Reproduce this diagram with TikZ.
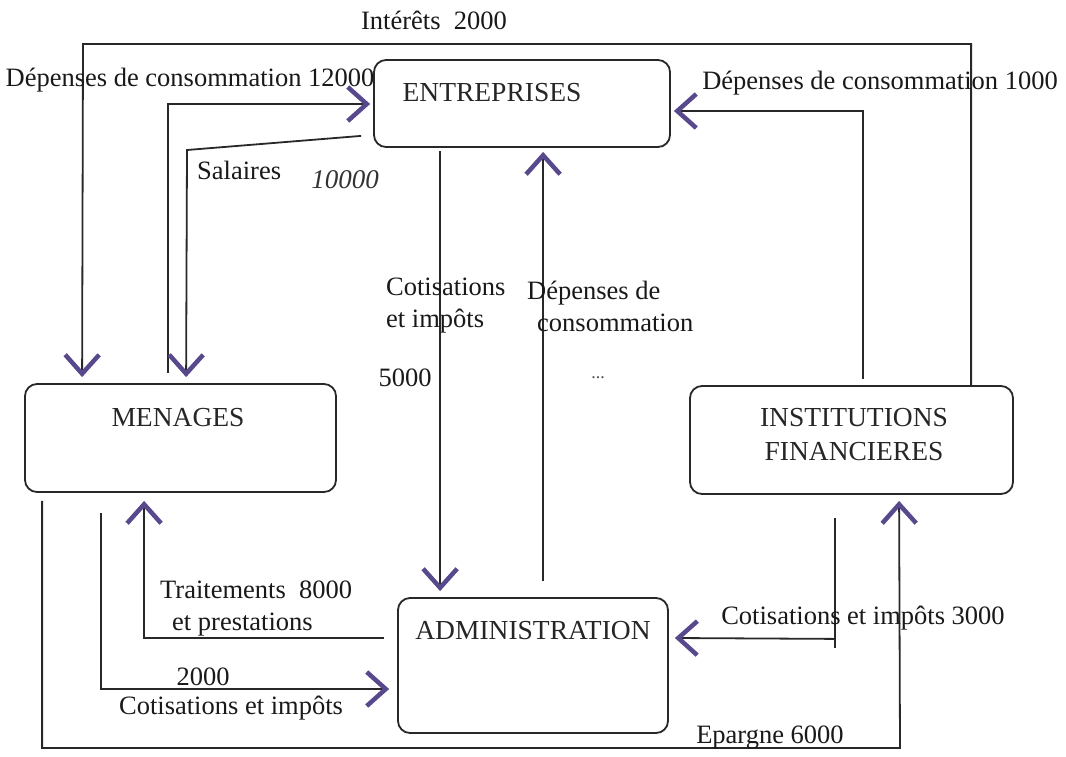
\documentclass[tikz,border=0pt]{standalone}
\usepackage{fontspec}
\setmainfont{Liberation Serif}
\usetikzlibrary{arrows.meta,calc}
\definecolor{purp}{RGB}{88,72,140}
\definecolor{ink}{RGB}{40,40,40}
\begin{document}
\begin{tikzpicture}[x=1pt,y=-1pt,
  box/.style={draw=ink, line width=1.8pt, rounded corners=12pt, inner sep=0pt},
  boxtxt/.style={font=\fontsize{27.5}{34}\selectfont, inner sep=0pt, align=center, text=black!85},
  lab/.style={font=\fontsize{26.5}{32}\selectfont, inner sep=0pt, text=black!90},
  hand/.style={font=\fontsize{27}{30}\selectfont\itshape, inner sep=0pt, text=black!80},
  flow/.style={draw=ink, line width=1.8pt},
  conn/.style={flow, -{Straight Barb[length=19pt,width=34pt,line width=4.5pt,color=purp]}}]
\useasboundingbox (0,0) rectangle (1066,756);

% boxes
\node[box, minimum width=296pt, minimum height=87pt] (ent) at (522,103.5) {};
\node[box, minimum width=311pt, minimum height=108pt] (men) at (180.5,438) {};
\node[box, minimum width=270pt, minimum height=135pt] (adm) at (533,665.5) {};
\node[box, minimum width=323pt, minimum height=108pt] (inst) at (851.5,440) {};

\node[boxtxt] (entt) at (492,93) {ENTREPRISES};
\node[boxtxt] (ment) at (178,418) {MENAGES};
\node[boxtxt] (admt) at (533,631) {ADMINISTRATION};
\node[boxtxt] (instt) at (854,435) {INSTITUTIONS\\FINANCIERES};

% connectors
% Intérêts 2000 : institutions -> ménages
\draw[conn] ($(inst.north west)+(282,0)$) |- (83,44) -- ($(men.north west)+(58,-6)$);
% Dépenses de consommation 12000 : ménages -> entreprises
\draw[conn] ($(men.north west)+(144,-10)$) |- ($(ent.west)+(-3,0.5)$);
% Salaires : entreprises -> ménages
\draw[conn] ($(ent.south west)+(-12,-12)$) -- (187,150) -- ($(men.north west)+(162,-6)$);
% Cotisations et impôts 5000 : entreprises -> administration
\draw[conn] ($(ent.south west)+(67,3)$) -- ($(adm.north west)+(43,-6)$);
% Dépenses de consommation : administration -> entreprises
\draw[conn] ($(adm.north west)+(146,-16)$) -- ($(ent.south west)+(170,4)$);
% Dépenses de consommation 1000 : institutions -> entreprises
\draw[conn] ($(inst.north west)+(174,-6)$) |- ($(ent.east)+(3,7.5)$);
% Traitements et prestations 8000 : administration -> ménages
\draw[conn] ($(adm.west)+(-13,-27.5)$) -| ($(men.south west)+(120,8)$);
% Cotisations et impôts 2000 : ménages -> administration
\draw[conn] ($(men.south west)+(77,20)$) |- ($(adm.west)+(-8,23.5)$);
% Epargne 6000 : ménages -> institutions
\draw[conn] ($(men.south west)+(18,8)$) |- (900,748) -- ($(inst.south west)+(210,6)$);
% Cotisations et impôts 3000 : institutions -> administration
\coordinate (c3) at ($(inst.south west)+(146,23)$);
\draw[flow] (c3) -- ++(0,130);
\draw[conn] ($(c3)+(0,121)$) -- ($(adm.east)+(6,-27.5)$);

% labels
\node[lab] (l1) at (434,20) {Intérêts\ \ 2000};
\node[lab] (l2) at (190,80) {Dépenses de consommation 12000};
\node[lab, anchor=west] (l3) at (197,170) {Salaires};
\node[hand] (l3b) at (345,180) {10000};
\node[lab, anchor=west, align=left] (l4) at (386,306) {Cotisations\\et impôts};
\node[lab, anchor=west, align=left] (l5) at (527,306) {Dépenses de\\\hspace*{10pt}consommation};
\node[lab] (l6) at (405,378) {5000};
\node[font=\fontsize{18}{20}\selectfont, inner sep=0pt, text=black!70] (l6b) at (598,378) {...};
\node[lab] (l7) at (880,83) {Dépenses de consommation 1000};
\node[lab, anchor=west, align=left] (l8) at (160,608) {Traitements\ \ 8000\\\hspace*{12pt}et prestations};
\node[lab] (l9) at (203,677) {2000};
\node[lab] (l10) at (231,708) {Cotisations et impôts};
\node[lab] (l11) at (863,618) {Cotisations et impôts 3000};
\node[lab] (l12) at (770,738) {Epargne 6000};
\end{tikzpicture}
\end{document}
